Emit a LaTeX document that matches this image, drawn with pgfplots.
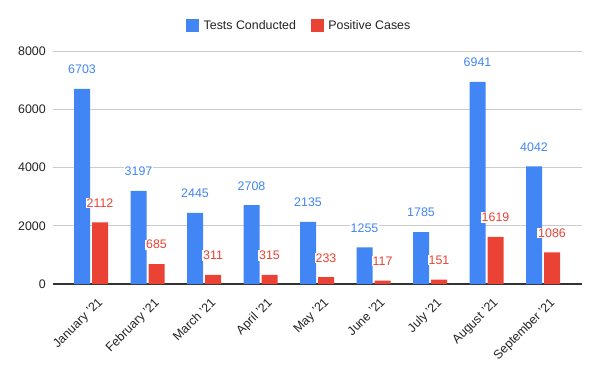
\documentclass[border=0pt]{standalone}
\usepackage{pgfplots}
\pgfplotsset{compat=1.18}
\usepackage{fontspec}
\setmainfont{Liberation Sans}
\definecolor{gblue}{HTML}{4285F4}
\definecolor{gred}{HTML}{EA4335}
\definecolor{gtext}{HTML}{222222}
\definecolor{ggrid}{HTML}{CCCCCC}
\definecolor{gbase}{HTML}{333333}
\begin{document}
\begin{tikzpicture}
\useasboundingbox (-39.75pt,-65.25pt) rectangle (410.25pt,213pt);
\begin{axis}[
  at={(0,0)}, anchor=south west,
  scale only axis,
  width=396.75pt, height=174.75pt,
  ybar=1.5pt, bar width=12pt,
  xmin=-0.673, xmax=8.69,
  ymin=0, ymax=8000,
  ytick={0,2000,4000,6000,8000},
  xtick={0,...,8},
  xticklabels={January '21,February '21,March '21,April '21,May '21,June '21,July '21,August '21,September '21},
  axis x line*=bottom,
  axis y line*=left,
  y axis line style={draw=none},
  x axis line style={gbase, line width=0.9pt},
  major tick length=0pt,
  ymajorgrids,
  grid style={ggrid, line width=0.75pt},
  /pgf/number format/assume math mode=true,
  /pgf/number format/1000 sep={},
  scaled y ticks=false,
  yticklabel style={font=\fontsize{9.3}{11}\selectfont, text=gtext, inner sep=0pt, xshift=-5.25pt},
  xticklabel style={font=\fontsize{9.3}{11}\selectfont, text=gtext, xshift=4.5pt, yshift=-9.5pt, rotate=45, anchor=north east, inner sep=0pt},
  legend style={at={(0.466,1.109)}, anchor=center, draw=none, fill=none,
    font=\fontsize{9.3}{11}\selectfont, text=gtext,
    legend columns=2,
    /tikz/every odd column/.append style={column sep=1.5pt},
    /tikz/every even column/.append style={column sep=9pt}},
  legend image code/.code={\fill[#1, draw=none] (0pt,-4.875pt) rectangle (9.75pt,4.875pt);},
  nodes near coords,
]
\addplot[fill=gblue, draw=none,
  nodes near coords style={font=\fontsize{9.3}{11}\selectfont, text=gblue, anchor=center, yshift=14.5pt, fill=white, inner sep=0.6pt, /pgf/number format/1000 sep={}}]
  coordinates {(0,6703) (1,3197) (2,2445) (3,2708) (4,2135) (5,1255) (6,1785) (7,6941) (8,4042)};
\addlegendentry{Tests Conducted}
\addplot[fill=gred, draw=none,
  nodes near coords style={font=\fontsize{9.3}{11}\selectfont, text=gred, anchor=center, yshift=14.5pt, fill=white, inner sep=0.6pt, /pgf/number format/1000 sep={}}]
  coordinates {(0,2112) (1,685) (2,311) (3,315) (4,233) (5,117) (6,151) (7,1619) (8,1086)};
\addlegendentry{Positive Cases}
\end{axis}
\end{tikzpicture}
\end{document}
